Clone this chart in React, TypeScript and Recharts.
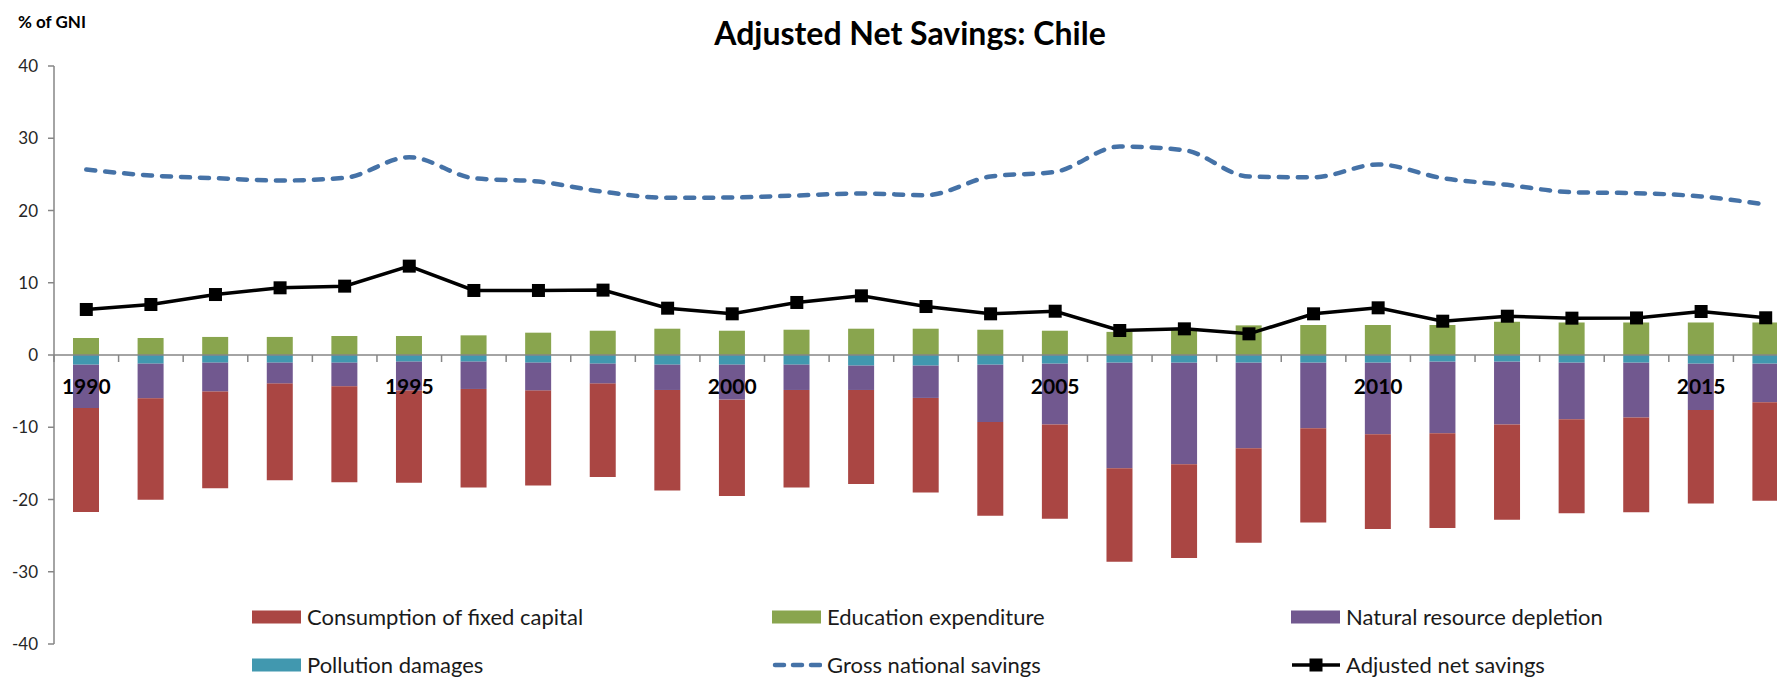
import React from "react";
import {
  ComposedChart,
  Bar,
  Line,
  XAxis,
  YAxis,
  ReferenceLine,
} from "recharts";

// ---------- data ----------
const years = [
  1990, 1991, 1992, 1993, 1994, 1995, 1996, 1997, 1998, 1999,
  2000, 2001, 2002, 2003, 2004, 2005, 2006, 2007, 2008, 2009,
  2010, 2011, 2012, 2013, 2014, 2015, 2016,
];
const labelledYears = [1990, 1995, 2000, 2005, 2010, 2015];
const yTicks = [-40, -30, -20, -10, 0, 10, 20, 30, 40];

const educationExpenditure = [
  2.35, 2.35, 2.5, 2.5, 2.63, 2.63, 2.72, 3.09, 3.36, 3.64,
  3.36, 3.5, 3.64, 3.64, 3.5, 3.36, 3.2, 3.5, 4.1, 4.15,
  4.15, 4.15, 4.6, 4.5, 4.5, 4.5, 4.5,
];
const pollutionDamages = [
  -1.34, -1.2, -1.06, -1.06, -1.06, -0.92, -0.92, -1.06, -1.2, -1.34,
  -1.34, -1.34, -1.47, -1.47, -1.34, -1.2, -1.06, -1.06, -1.06, -1.06,
  -1.06, -0.92, -0.92, -1.06, -1.06, -1.2, -1.2,
];
const naturalResourceDepletion = [
  -6.0, -4.8, -4.0, -2.9, -3.27, -4.0, -3.78, -3.87, -2.76, -3.5,
  -4.84, -3.5, -3.37, -4.47, -7.92, -8.43, -14.6, -14.05, -11.84, -9.08,
  -9.9, -9.91, -8.7, -7.84, -7.6, -6.4, -5.34,
];
const consumptionFixedCapital = [
  -14.4, -14.05, -13.4, -13.37, -13.27, -12.77, -13.64, -13.13, -12.94, -13.92,
  -13.32, -13.5, -13.0, -13.1, -13.0, -13.04, -12.95, -13.0, -13.1, -13.06,
  -13.13, -13.13, -13.18, -13.0, -13.1, -12.95, -13.64,
];
const grossNationalSavings = [
  25.67, 24.84, 24.47, 24.15, 24.52, 27.38, 24.47, 24.0, 22.6, 21.76,
  21.8, 22.08, 22.35, 22.12, 24.7, 25.35, 28.86, 28.35, 24.7, 24.6,
  26.37, 24.47, 23.55, 22.53, 22.4, 21.94, 20.83,
];
const adjustedNetSavings = [
  6.3, 6.99, 8.37, 9.3, 9.53, 12.3, 8.93, 8.93, 8.98, 6.48,
  5.7, 7.27, 8.19, 6.71, 5.7, 6.06, 3.39, 3.62, 2.93, 5.7,
  6.53, 4.68, 5.37, 5.1, 5.13, 6.02, 5.15,
];

const data = years.map((y, i) => ({
  year: y,
  edu: educationExpenditure[i],
  poll: pollutionDamages[i],
  nrd: naturalResourceDepletion[i],
  cfc: consumptionFixedCapital[i],
  gns: grossNationalSavings[i],
  ans: adjustedNetSavings[i],
}));

// ---------- layout / style ----------
const FONT = "Lato, 'Open Sans', 'Liberation Sans', sans-serif";
const CHART_W = 1800;
const CHART_H = 677;
const M_TOP = 66;
const M_BOTTOM = 13;
const X_H = 20;
const M_RIGHT = 2;
const Y_W = 54;
const Y_MIN = -40;
const Y_MAX = 40;
const PLOT_H = CHART_H - M_TOP - M_BOTTOM - X_H;
const PLOT_W = CHART_W - Y_W - M_RIGHT;
const BAND = PLOT_W / years.length;
const ZERO_Y = M_TOP + (PLOT_H * Y_MAX) / (Y_MAX - Y_MIN);

const C_CFC = "#AA4643";
const C_EDU = "#89A54E";
const C_NRD = "#71588F";
const C_POLL = "#4198AF";
const C_GNS = "#4572A7";
const C_ANS = "#000000";
const AXIS_GRAY = "#868686";

const renderXTick = (props: any) => {
  const { x, payload, index } = props;
  const yr = Number(payload.value);
  const showLabel = labelledYears.includes(yr);
  const bx = x - BAND / 2;
  return (
    <g key={`xt${index}`}>
      <line x1={bx} x2={bx} y1={ZERO_Y} y2={ZERO_Y + 7} stroke={AXIS_GRAY} strokeWidth={1.5} />
      {showLabel && (
        <text
          x={x}
          y={ZERO_Y + 30}
          textAnchor="middle"
          dominantBaseline="central"
          fontFamily={FONT}
          fontSize={21}
          fontWeight="bold"
          fill="#000"
        >
          {yr}
        </text>
      )}
    </g>
  );
};

const SquareDot = (props: any) => {
  const { cx, cy, index } = props;
  if (cx == null || cy == null) return null;
  return <rect key={`d${index}`} x={cx - 6.5} y={cy - 6.5} width={13} height={13} fill={C_ANS} />;
};

type LegendItem = { label: string; kind: "bar" | "dash" | "marker"; color: string };
const legendRows: LegendItem[][] = [
  [
    { label: "Consumption of fixed capital", kind: "bar", color: C_CFC },
    { label: "Education expenditure", kind: "bar", color: C_EDU },
    { label: "Natural resource depletion", kind: "bar", color: C_NRD },
  ],
  [
    { label: "Pollution damages", kind: "bar", color: C_POLL },
    { label: "Gross national savings", kind: "dash", color: C_GNS },
    { label: "Adjusted net savings", kind: "marker", color: C_ANS },
  ],
];
const legendColX = [252, 772, 1291];
const legendRowY = [617, 665];

const LegendIcon = ({ item }: { item: LegendItem }) => (
  <svg width={50} height={16} style={{ display: "block" }}>
    {item.kind === "bar" && <rect x={0} y={1.5} width={49} height={13} fill={item.color} />}
    {item.kind === "dash" && (
      <line
        x1={3}
        x2={49}
        y1={8}
        y2={8}
        stroke={item.color}
        strokeWidth={4.5}
        strokeLinecap="round"
        strokeDasharray="9 9"
      />
    )}
    {item.kind === "marker" && (
      <g>
        <line x1={1} x2={49} y1={8} y2={8} stroke={item.color} strokeWidth={3.5} />
        <rect x={18.5} y={1.5} width={13} height={13} fill={item.color} />
      </g>
    )}
  </svg>
);

export default function App() {
  return (
    <div
      style={{
        position: "relative",
        width: 1785,
        height: 677,
        margin: "-8px 0 0 -8px",
        overflow: "hidden",
        background: "#fff",
        fontFamily: FONT,
      }}
    >
      <ComposedChart
        width={CHART_W}
        height={CHART_H}
        data={data}
        stackOffset="sign"
        margin={{ top: M_TOP, right: M_RIGHT, bottom: M_BOTTOM, left: 0 }}
      >
        <XAxis
          dataKey="year"
          type="category"
          height={X_H}
          interval={0}
          axisLine={false}
          tickLine={false}
          tick={renderXTick}
        />
        <YAxis
          width={Y_W}
          domain={[Y_MIN, Y_MAX]}
          ticks={yTicks}
          interval={0}
          allowDataOverflow
          tickSize={6}
          tickMargin={10}
          axisLine={{ stroke: AXIS_GRAY, strokeWidth: 1.5 }}
          tickLine={{ stroke: AXIS_GRAY, strokeWidth: 1.5 }}
          tick={{ fontSize: 17, fill: "#262626", fontFamily: FONT }}
        />
        <Bar dataKey="edu" stackId="s" fill={C_EDU} barSize={26} isAnimationActive={false} />
        <Bar dataKey="poll" stackId="s" fill={C_POLL} barSize={26} isAnimationActive={false} />
        <Bar dataKey="nrd" stackId="s" fill={C_NRD} barSize={26} isAnimationActive={false} />
        <Bar dataKey="cfc" stackId="s" fill={C_CFC} barSize={26} isAnimationActive={false} />
        <ReferenceLine y={0} stroke={AXIS_GRAY} strokeWidth={1.5} />
        <Line
          dataKey="gns"
          type="monotone"
          stroke={C_GNS}
          strokeWidth={4.5}
          strokeLinecap="round"
          strokeDasharray="9 10"
          dot={false}
          activeDot={false}
          isAnimationActive={false}
        />
        <Line
          dataKey="ans"
          type="linear"
          stroke={C_ANS}
          strokeWidth={3.5}
          dot={<SquareDot />}
          activeDot={false}
          isAnimationActive={false}
        />
      </ComposedChart>

      <div
        style={{
          position: "absolute",
          left: 0,
          width: 1820,
          top: 14,
          textAlign: "center",
          fontSize: 32,
          fontWeight: "bold",
          color: "#000",
          lineHeight: "38px",
        }}
      >
        Adjusted Net Savings: Chile
      </div>
      <div
        style={{
          position: "absolute",
          left: 18,
          top: 11,
          fontSize: 17,
          fontWeight: "bold",
          color: "#000",
          lineHeight: "22px",
        }}
      >
        % of GNI
      </div>

      {legendRows.map((row, r) =>
        row.map((item, c) => (
          <div
            key={`${r}-${c}`}
            style={{
              position: "absolute",
              left: legendColX[c],
              top: legendRowY[r] - 13,
              height: 26,
              display: "flex",
              alignItems: "center",
              whiteSpace: "nowrap",
            }}
          >
            <LegendIcon item={item} />
            <span style={{ marginLeft: 5, fontSize: 22, color: "#1a1a1a", lineHeight: "26px" }}>
              {item.label}
            </span>
          </div>
        ))
      )}
    </div>
  );
}
